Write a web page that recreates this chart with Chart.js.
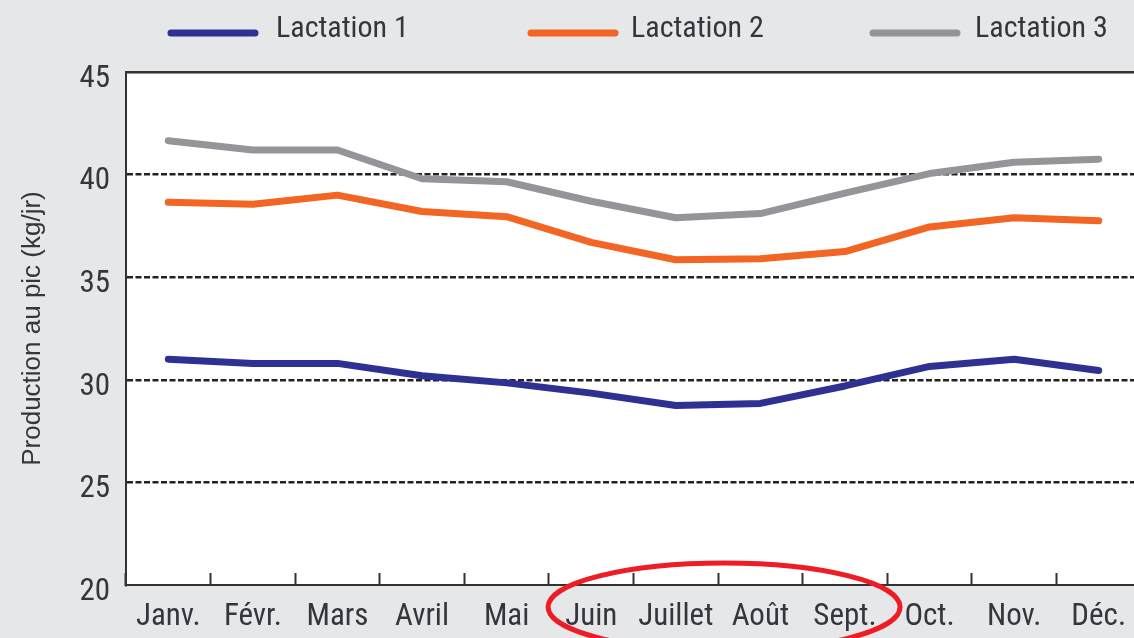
<!DOCTYPE html>
<html>
<head>
<meta charset="utf-8">
<script src="https://cdn.jsdelivr.net/npm/chart.js@4/dist/chart.umd.min.js"></script>
<style>
  html, body { margin: 0; padding: 0; overflow: hidden; background: #e6e7e8; }
  #wrap { width: 1141px; height: 638px; }
</style>
</head>
<body>
<div id="wrap"><canvas id="myChart" width="1141" height="638"></canvas></div>
<script>
// data
const months = ['Janv.', 'Févr.', 'Mars', 'Avril', 'Mai', 'Juin', 'Juillet', 'Août', 'Sept.', 'Oct.', 'Nov.', 'Déc.']
const lactation1 = [31.0, 30.8, 30.8, 30.2, 29.85, 29.35, 28.75, 28.85, 29.7, 30.65, 31.0, 30.45]
const lactation2 = [38.65, 38.55, 39.0, 38.2, 37.95, 36.7, 35.85, 35.9, 36.25, 37.45, 37.9, 37.75]
const lactation3 = [41.65, 41.2, 41.2, 39.8, 39.65, 38.7, 37.9, 38.1, 39.1, 40.05, 40.6, 40.75]
const seriesNames = ['Lactation 1', 'Lactation 2', 'Lactation 3']
const yTicks = [20, 25, 30, 35, 40, 45]

// Roboto is variable, "condensed" gives a Helvetica Condensed look
const narrowFamily = 'Roboto, sans-serif'
const narrowWeight = 'normal condensed'
const textColor = '#35353d'

function line(label, values, color) {
    return {
        label: label,
        data: values,
        borderColor: color,
        backgroundColor: color,
        borderWidth: 7,
        borderCapStyle: 'round',
        borderJoinStyle: 'round',
        tension: 0,
        pointRadius: 0,
        fill: false
    }
}

// legend drawn by hand, the built-in one can't space items like the original
const legendPlugin = {
    id: 'manualLegend',
    afterDraw(chart) {
        const ctx = chart.ctx
        const lineX = [168, 528, 870]
        const textX = [276, 631, 975]
        ctx.save()
        chart.data.datasets.forEach((ds, i) => {
            ctx.strokeStyle = ds.borderColor
            ctx.lineWidth = 7
            ctx.lineCap = 'round'
            ctx.beginPath()
            ctx.moveTo(lineX[i] + 3, 33)
            ctx.lineTo(lineX[i] + 87, 33)
            ctx.stroke()
            ctx.fillStyle = textColor
            ctx.font = narrowWeight + ' 30px ' + narrowFamily
            ctx.textBaseline = 'middle'
            ctx.textAlign = 'left'
            ctx.fillText(ds.label, textX[i], 29)
        })
        ctx.restore()
    }
}

// red ellipse round Juin..Sept.
const ellipsePlugin = {
    id: 'ellipse',
    afterDraw(chart) {
        const x = chart.scales.x
        const cx = (x.getPixelForValue(5) + x.getPixelForValue(8)) / 2 + 6
        const ctx = chart.ctx
        ctx.save()
        ctx.strokeStyle = '#ee1c24'
        ctx.lineWidth = 5
        ctx.beginPath()
        ctx.ellipse(cx, 607, 176, 44, 0, 0, Math.PI * 2)
        ctx.stroke()
        ctx.restore()
    }
}

const config = {
    type: 'line',
    data: {
        labels: months,
        datasets: [
            line(seriesNames[0], lactation1, '#2e3192'),
            line(seriesNames[1], lactation2, '#f26522'),
            line(seriesNames[2], lactation3, '#939598')
        ]
    },
    options: {
        responsive: false,
        animation: false,
        layout: { padding: { top: 72, left: 0, right: 0, bottom: 0 } },
        plugins: {
            legend: { display: false },
            tooltip: { enabled: false }
        },
        scales: {
            x: {
                offset: true,
                grid: {
                    offset: true,
                    drawOnChartArea: false,
                    drawTicks: true,
                    tickLength: -12,
                    tickColor: '#333',
                    tickWidth: 2
                },
                border: { display: true, color: '#333', width: 2 },
                ticks: {
                    color: textColor,
                    font: { family: narrowFamily, weight: narrowWeight, size: 31 },
                    padding: 26,
                    maxRotation: 0,
                    autoSkip: false
                },
                afterFit(scale) {
                    scale.height = 53
                    scale.paddingLeft = 0
                    scale.paddingRight = 0
                }
            },
            y: {
                min: 20,
                max: 45,
                afterBuildTicks(scale) { scale.ticks = yTicks.map(v => ({ value: v })) },
                grid: {
                    drawTicks: false,
                    lineWidth: 2.5,
                    color: c => (c.tick && c.tick.value === 20) ? 'rgba(0,0,0,0)' : (c.tick && c.tick.value === 45 ? '#333' : '#222')
                },
                border: {
                    display: true,
                    color: '#333',
                    width: 2,
                    dash: c => (c.tick && c.tick.value === 45) ? [] : [6, 2.5]
                },
                ticks: {
                    color: textColor,
                    font: { family: narrowFamily, weight: narrowWeight, size: 31 },
                    padding: 16,
                    labelOffset: 7
                },
                title: {
                    display: true,
                    text: 'Production au pic (kg/jr)',
                    color: textColor,
                    font: { family: "'Liberation Sans', Arial, sans-serif", size: 26 },
                    padding: { top: 17, bottom: 0 }
                },
                afterFit(scale) { scale.width = 126 }
            }
        }
    },
    plugins: [
        {
            id: 'bg',
            beforeDraw(chart) {
                const ctx = chart.ctx
                const a = chart.chartArea
                ctx.save()
                ctx.fillStyle = '#e6e7e8'
                ctx.fillRect(0, 0, chart.width, chart.height)
                ctx.fillStyle = '#ffffff'
                ctx.fillRect(a.left, a.top, a.right - a.left, a.bottom - a.top)
                ctx.restore()
            }
        },
        legendPlugin,
        ellipsePlugin
    ]
}

const myChart = new Chart(document.getElementById('myChart'), config)
</script>
</body>
</html>
